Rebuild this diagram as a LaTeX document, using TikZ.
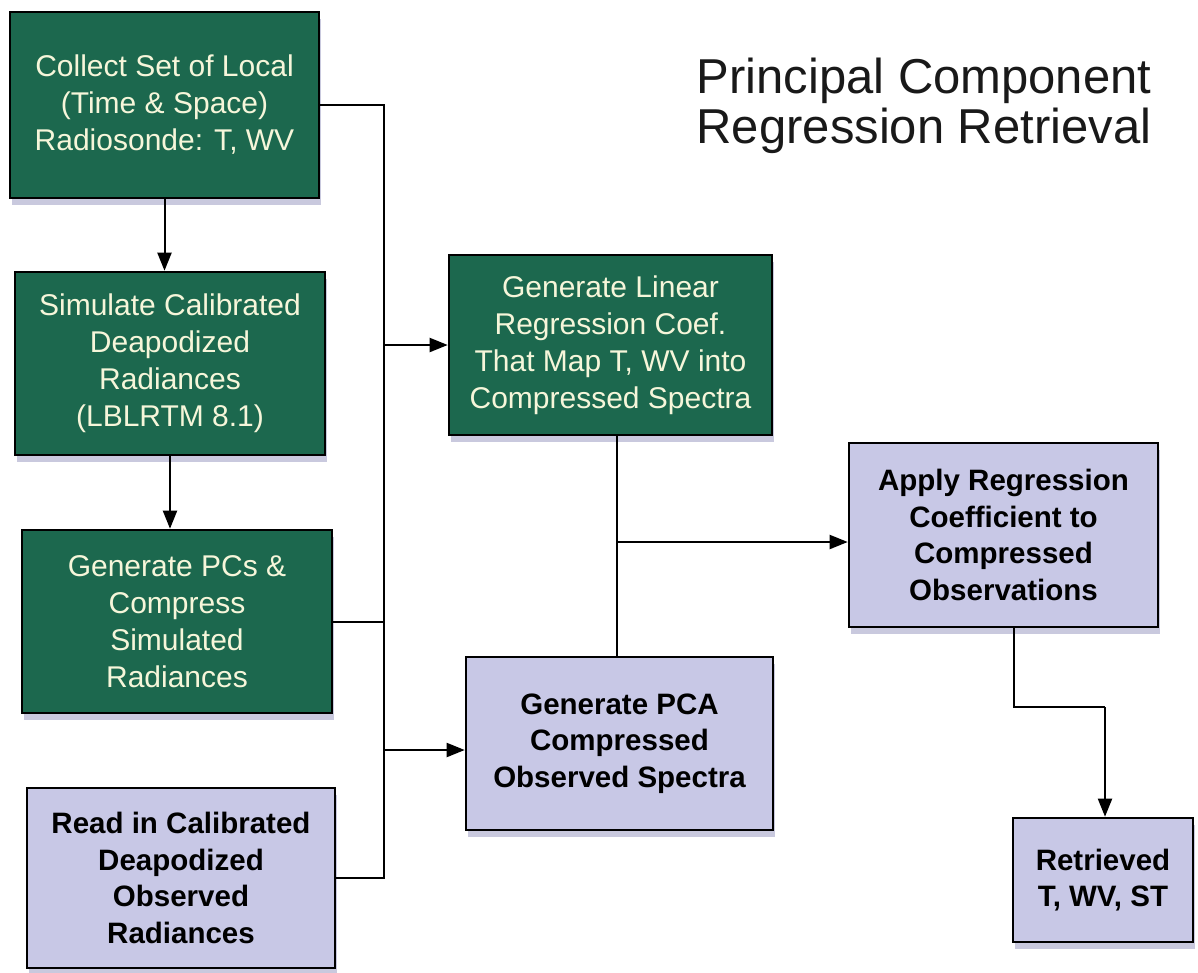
\documentclass[tikz,border=0pt]{standalone}
\usepackage{fontspec}
\setmainfont{Liberation Sans}
\usetikzlibrary{arrows.meta,shadows}
\definecolor{boxgreen}{RGB}{28,104,78}
\definecolor{boxlav}{RGB}{200,200,230}
\definecolor{greentext}{RGB}{246,246,218}
\definecolor{shadowc}{RGB}{165,165,200}
\tikzset{
  base/.style={draw=black, line width=2.6pt, rectangle, align=center, inner sep=0pt,
    drop shadow={shadow xshift=2pt, shadow yshift=-7pt, fill=shadowc, opacity=0.6}},
  greenbox/.style={base, fill=boxgreen, text=greentext,
    font=\fontsize{30}{37}\selectfont},
  lavbox/.style={base, fill=boxlav, text=black,
    font=\bfseries\fontsize{29.5}{36.5}\selectfont},
  conn/.style={draw=black, line width=2pt},
  arr/.style={conn, -{Triangle[length=18pt,width=14pt]}},
}
\begin{document}
\begin{tikzpicture}[x=1pt,y=-1pt]
\useasboundingbox[fill=white] (0,0) rectangle (1198,972);

% title
\node[align=center, font=\fontsize{49}{50}\selectfont, text={rgb,255:red,25;green,25;blue,25}] (title) at (924,106)
  {Principal Component\\Regression Retrieval};

% left column
\node[greenbox, minimum width=309pt, minimum height=186pt] (b1) at (164.5,105)
  {Collect Set of Local\\(Time \& Space)\\Radiosonde: T, WV};
\node[greenbox, minimum width=310pt, minimum height=183pt] (b2) at (170,363.5)
  {Simulate Calibrated\\Deapodized\\Radiances\\(LBLRTM 8.1)};
\node[greenbox, minimum width=310pt, minimum height=183pt] (b3) at (177,621.5)
  {Generate PCs \&\\Compress\\Simulated\\Radiances};
\node[lavbox, minimum width=308pt, minimum height=180pt] (b4) at (181,878)
  {Read in Calibrated\\Deapodized\\Observed\\Radiances};

% middle column
\node[greenbox, minimum width=323pt, minimum height=180pt] (b5) at (610.5,345)
  {Generate Linear\\Regression Coef.\\That Map T, WV into\\Compressed Spectra};
\node[lavbox, minimum width=307pt, minimum height=173pt] (b6) at (619.5,743.5)
  {Generate PCA\\Compressed\\Observed Spectra};

% right column
\node[lavbox, minimum width=309pt, minimum height=184pt] (b7) at (1003.5,535)
  {Apply Regression\\Coefficient to\\Compressed\\Observations};
\node[lavbox, minimum width=180pt, minimum height=124pt] (b8) at (1103,880)
  {Retrieved\\T, WV, ST};

% helper coordinates
\coordinate (busx) at (384,0);
\coordinate (midx) at (617,0);
\coordinate (mid7) at (617,542);
\coordinate (bus5) at (384,345);
\coordinate (bus6) at (384,750);
\coordinate (r1) at (1014,707);
\coordinate (r2) at (1105,707);

% connectors left column
\draw[arr] (b1.south) -- (b1.south |- b2.north);
\draw[arr] (b2.south) -- (b2.south |- b3.north);

% bus
\draw[conn] (b1.east) -- (b1.east -| busx) -- (b4.east -| busx) -- (b4.east);
\draw[conn] (b3.east) -- (b3.east -| busx);
\draw[arr] (bus5) -- (b5.west);
\draw[arr] (bus6) -- (bus6 -| b6.west);

% middle
\draw[conn] (b5.south -| midx) -- (b6.north -| midx);
\draw[arr] (mid7) -- (mid7 -| b7.west);

% right
\draw[conn] (b7.south -| r1) -- (r1) -- (r2);
\draw[arr] (r2) -- (b8.north -| r2);
\end{tikzpicture}
\end{document}
